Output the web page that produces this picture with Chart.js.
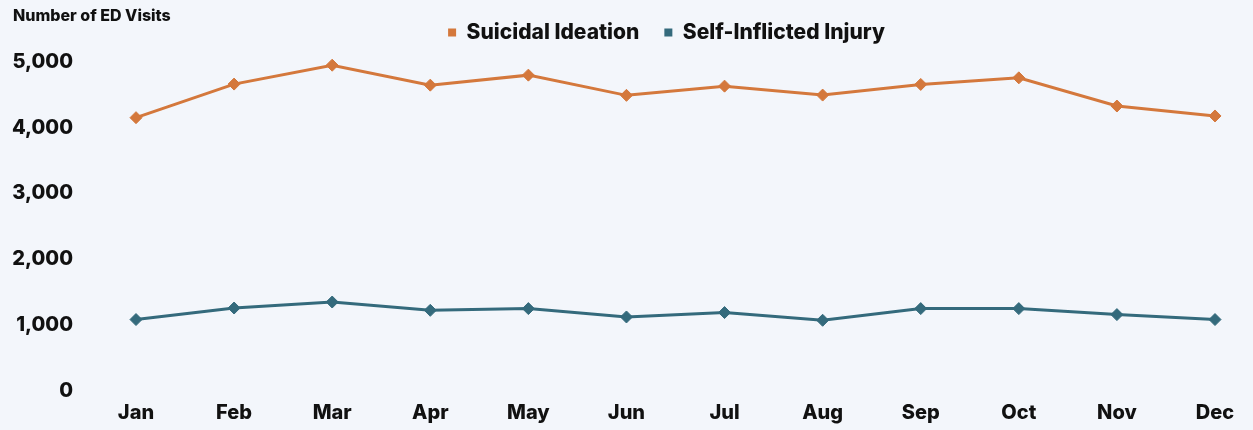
<!DOCTYPE html>
<html>
<head>
<meta charset="utf-8">
<script src="https://cdn.jsdelivr.net/npm/chart.js@4.4.1/dist/chart.umd.min.js"></script>
<style>
    html, body { margin: 0; padding: 0; background: #f3f6fb; }
    #wrap { position: relative; width: 1253px; height: 430px; }
    #yTitle {
        position: absolute; left: 13px; top: 7px;
        font: 800 16px/16px Inter, sans-serif; color: #111;
    }
</style>
</head>
<body>
<div id="wrap">
    <canvas id="edChart"></canvas>
    <div id="yTitle">Number of ED Visits</div>
</div>
<script>
const months = ['Jan', 'Feb', 'Mar', 'Apr', 'May', 'Jun', 'Jul', 'Aug', 'Sep', 'Oct', 'Nov', 'Dec'];
const suicidalIdeation = [4150, 4660, 4947, 4644, 4796, 4489, 4629, 4493, 4655, 4755, 4327, 4176];
const selfInflictedInjury = [1085, 1260, 1351, 1225, 1251, 1124, 1191, 1074, 1251, 1251, 1160, 1085];
const yTicks = [0, 1000, 2000, 3000, 4000, 5000];

const orange = '#d4783c';
const teal = '#346a7c';
const font = 'Inter, sans-serif';

// legend gets a bit more room under it, and sits a little left of the plot centre
const legendTweak = {
    id: 'legendTweak',
    afterInit(chart) {
        const fit = chart.legend.fit;
        chart.legend.fit = function () {
            fit.call(this);
            this.height += 8.7;
        };
    },
    afterLayout(chart) {
        chart.legend.left -= 9;
        chart.legend.right -= 9;
    }
};

function lineSet(label, data, color) {
    return {
        label,
        data,
        borderColor: color,
        backgroundColor: color,
        borderWidth: 3,
        tension: 0,
        fill: false,
        pointStyle: 'rectRot',
        pointRadius: 6,
        pointBorderWidth: 1,
        pointBackgroundColor: color,
        pointBorderColor: color,
        clip: false,
    };
}

new Chart(document.getElementById('edChart'), {
    type: 'line',
    data: {
        labels: months,
        datasets: [
            lineSet('Suicidal Ideation', suicidalIdeation, orange),
            lineSet('Self-Inflicted Injury', selfInflictedInjury, teal),
        ],
    },
    options: {
        responsive: true,
        maintainAspectRatio: false,
        animation: false,
        layout: {
            padding: { top: -3, left: 0, right: 38, bottom: 0 },
        },
        plugins: {
            title: { display: false },
            tooltip: { enabled: false },
            legend: {
                position: 'top',
                align: 'center',
                fullSize: false,
                labels: {
                    boxWidth: 8,
                    boxHeight: 8,
                    padding: 25,
                    color: '#111',
                    font: { family: font, size: 21, weight: '800' },
                    generateLabels: function (chart) {
                        return Chart.defaults.plugins.legend.labels.generateLabels(chart)
                            .map(item => ({ ...item, lineWidth: 0 }));
                    },
                },
            },
        },
        scales: {
            x: {
                offset: false,
                grid: { display: false, drawTicks: false },
                border: { display: false },
                ticks: {
                    color: '#111',
                    padding: 10,
                    maxRotation: 0,
                    font: { family: font, size: 20, weight: '800' },
                },
                afterFit: function (scale) {
                    scale.height = 39;
                },
            },
            y: {
                min: 0,
                max: 5000,
                grid: { display: false, drawTicks: false },
                border: { display: false },
                afterBuildTicks: function (scale) {
                    scale.ticks = yTicks.map(v => ({ value: v }));
                },
                ticks: {
                    color: '#111',
                    padding: 63,
                    font: { family: font, size: 20, weight: '800' },
                    callback: value => value.toLocaleString('en-US'),
                },
                afterFit: function (scale) {
                    scale.width = 136;
                    // the big label gap must not push the plot area down
                    scale.paddingTop = 12;
                    scale.paddingBottom = 12;
                },
            },
        },
    },
    plugins: [legendTweak],
});
</script>
</body>
</html>
